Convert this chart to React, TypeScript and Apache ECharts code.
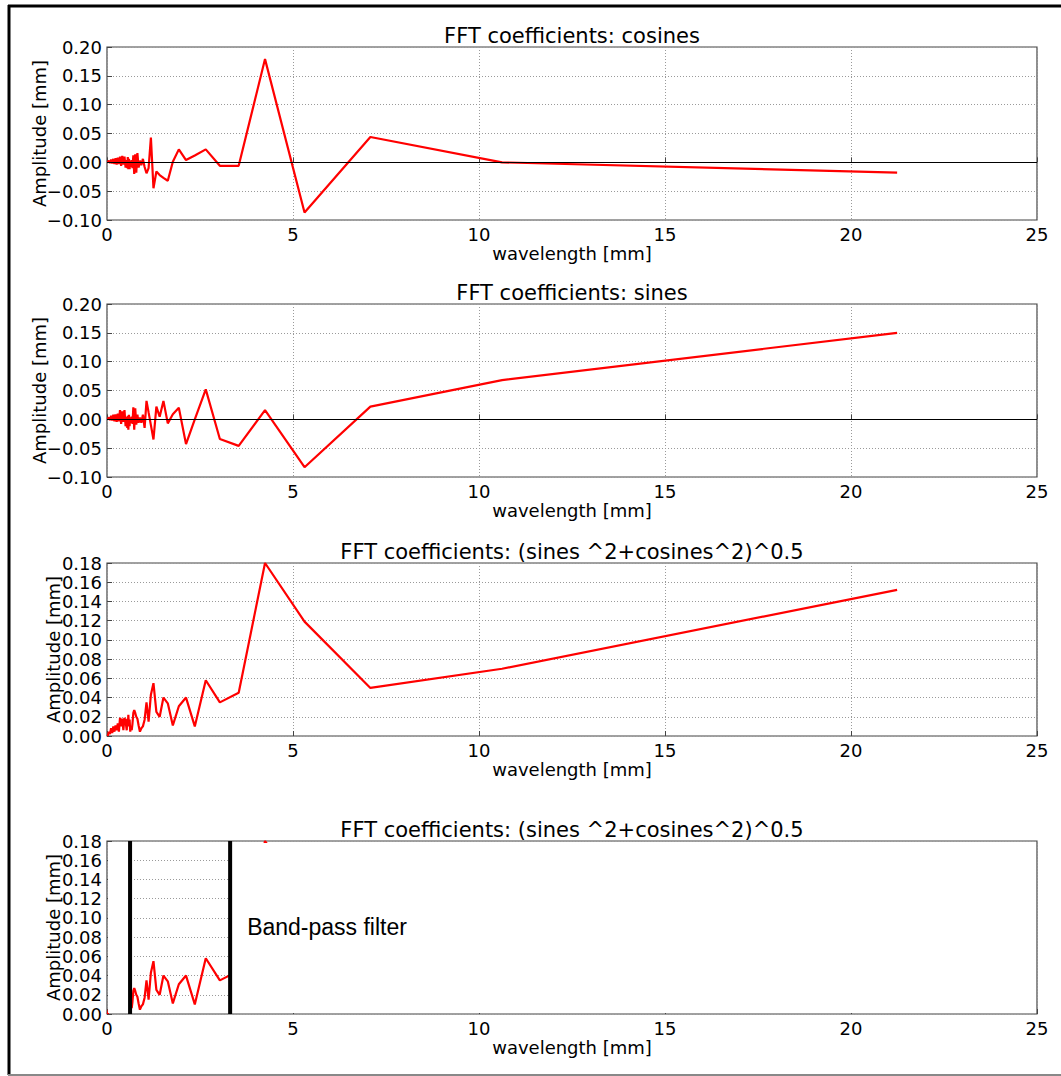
import React, { useEffect, useRef } from 'react';
import * as echarts from 'echarts';

// Wavelength of each FFT coefficient [mm]
const WAVELENGTH = [
  21.24, 10.62, 7.08, 5.31, 4.248, 3.54, 3.034, 2.655, 2.36, 2.124,
  1.931, 1.77, 1.634, 1.517, 1.416, 1.3275, 1.249, 1.18, 1.118, 1.062,
  1.011, 0.965, 0.923, 0.885, 0.85, 0.817, 0.787, 0.759, 0.732, 0.708,
  0.685, 0.664, 0.644, 0.625, 0.607, 0.59, 0.574, 0.559, 0.545, 0.531,
  0.5, 0.47, 0.44, 0.41, 0.38, 0.35, 0.32, 0.29, 0.26, 0.23,
  0.2, 0.17, 0.14, 0.11, 0.08, 0.05, 0.02,
];

const COSINES = [
  -0.018, 0.0, 0.044, -0.087, 0.179, -0.006, -0.006, 0.0225, 0.012, 0.004,
  0.0225, 0.001, -0.032, -0.027, -0.022, -0.016, -0.045, 0.043, -0.01, -0.019,
  -0.008, 0.006, -0.005, 0.003, -0.009, 0.016, -0.018, 0.014, -0.02, 0.012,
  -0.01, 0.004, -0.008, 0.003, -0.012, 0.006, -0.012, 0.009, -0.01, 0.004,
  -0.009, 0.01, -0.004, 0.011, -0.006, 0.01, -0.003, 0.008, -0.004, 0.007,
  -0.003, 0.006, -0.002, 0.005, -0.0014, 0.003, 0.0,
];

const SINES = [
  0.15, 0.068, 0.022, -0.083, 0.016, -0.046, -0.034, 0.052, 0.0, -0.043,
  0.02, 0.0087, -0.007, 0.032, 0.0045, 0.022, -0.035, -0.01, 0.012, 0.032,
  -0.015, 0.008, -0.006, 0.003, -0.006, 0.008, -0.009, 0.019, -0.018, 0.021,
  -0.008, 0.0045, -0.006, 0.0034, -0.012, 0.008, -0.018, 0.006, -0.015, 0.0045,
  -0.012, 0.016, -0.0045, 0.014, -0.008, 0.016, -0.0034, 0.01, -0.0045, 0.0085,
  -0.0034, 0.008, -0.0022, 0.006, -0.0014, 0.0034, 0.0,
];

const MAGNITUDE = [
  0.152, 0.07, 0.05, 0.119, 0.18, 0.045, 0.035, 0.058, 0.01, 0.04,
  0.031, 0.011, 0.034, 0.04, 0.02, 0.025, 0.055, 0.043, 0.015, 0.035,
  0.017, 0.01, 0.008, 0.0045, 0.011, 0.018, 0.02, 0.024, 0.027, 0.024,
  0.013, 0.006, 0.01, 0.0045, 0.017, 0.01, 0.022, 0.011, 0.018, 0.006,
  0.015, 0.019, 0.006, 0.018, 0.01, 0.019, 0.0045, 0.013, 0.006, 0.011,
  0.0045, 0.01, 0.003, 0.008, 0.002, 0.0045, 0.0,
];

const TITLES = [
  'FFT coefficients: cosines',
  'FFT coefficients: sines',
  'FFT coefficients: (sines ^2+cosines^2)^0.5',
  'FFT coefficients: (sines ^2+cosines^2)^0.5',
];
const X_LABEL = 'wavelength [mm]';
const Y_LABEL = 'Amplitude [mm]';
const X_TICKS = { min: 0, max: 25, interval: 5 };
const Y_SIGNED = { min: -0.1, max: 0.2, interval: 0.05 };
const Y_MAG = { min: 0, max: 0.18, interval: 0.02 };
const BAND = [0.62, 3.31];
const BAND_LABEL = 'Band-pass filter';

const FONT = 'DejaVu Sans';
const GRID_LEFT = 107;
const GRID_W = 930;
const GRID_H = 173;
const GRID_TOPS = [47, 304, 563, 841];

const pairs = (ys: number[]) => WAVELENGTH.map((x, i) => [x, ys[i]]);
const fmtY = (v: number) => v.toFixed(2).replace('-', '\u2212');

export default function App() {
  const ref = useRef<HTMLDivElement>(null);
  useEffect(() => {
    if (!ref.current) return;
    const chart = echarts.init(ref.current, undefined, { renderer: 'svg' });
    const seriesData = [COSINES, SINES, MAGNITUDE, MAGNITUDE];
    const zeroLine = {
      silent: true,
      symbol: ['none', 'none'],
      label: { show: false },
      lineStyle: { color: '#000', width: 1.2, type: 'solid' },
      data: [{ yAxis: 0 }],
    };
    const option: any = {
      animation: false,
      backgroundColor: '#fff',
      title: TITLES.map((t, i) => ({
        text: t,
        left: GRID_LEFT + GRID_W / 2,
        top: GRID_TOPS[i] - 22,
        textAlign: 'center',
        padding: 0,
        textStyle: { fontSize: 21, fontWeight: 'normal', color: '#000', fontFamily: FONT },
      })),
      grid: GRID_TOPS.map((t) => ({
        left: GRID_LEFT,
        top: t,
        width: GRID_W,
        height: GRID_H,
        show: true,
        borderColor: '#444',
        borderWidth: 1.2,
        backgroundColor: 'transparent',
      })),
      xAxis: GRID_TOPS.map((_, i) => ({
        gridIndex: i,
        type: 'value',
        ...X_TICKS,
        name: X_LABEL,
        nameLocation: 'middle',
        nameGap: 24,
        nameMoveOverlap: false,
        nameTextStyle: { fontSize: 18, color: '#000', fontFamily: FONT },
        axisLine: { show: false },
        axisTick: { show: true, inside: true, length: 5, lineStyle: { color: '#444' } },
        axisLabel: { fontSize: 18, color: '#000', margin: 5, fontFamily: FONT },
        splitLine: { show: true, lineStyle: { color: '#9a9a9a', type: [1, 2], width: 1 } },
      })),
      yAxis: GRID_TOPS.map((_, i) => ({
        gridIndex: i,
        type: 'value',
        ...(i < 2 ? Y_SIGNED : Y_MAG),
        name: Y_LABEL,
        nameLocation: 'middle',
        nameRotate: 90,
        nameGap: i < 2 ? 59 : 45,
        nameMoveOverlap: false,
        nameTextStyle: { fontSize: 18, color: '#000', fontFamily: FONT },
        axisLine: { show: false },
        axisTick: { show: true, inside: true, length: 5, lineStyle: { color: '#444' } },
        axisLabel: { fontSize: 18, color: '#000', margin: 5, fontFamily: FONT, formatter: fmtY },
        splitLine: { show: true, lineStyle: { color: '#9a9a9a', type: [1, 2], width: 1 } },
      })),
      series: seriesData.map((ys, i) => ({
        type: 'line',
        xAxisIndex: i,
        yAxisIndex: i,
        data: pairs(ys),
        showSymbol: false,
        symbol: 'none',
        lineStyle: { color: '#ff0000', width: 2.2 },
        clip: true,
        z: 3,
        ...(i < 2 ? { markLine: zeroLine } : {}),
      })),
    };
    chart.setOption(option);

    const g = 3;
    const [xa] = chart.convertToPixel({ gridIndex: g }, [BAND[0], 0]) as number[];
    const [xb] = chart.convertToPixel({ gridIndex: g }, [BAND[1], 0]) as number[];
    const top = GRID_TOPS[g];
    const bot = top + GRID_H;
    const right = GRID_LEFT + GRID_W;
    chart.setOption({
      graphic: [
        { type: 'rect', z: 100, shape: { x: GRID_LEFT + 1, y: top + 2, width: xa - GRID_LEFT - 1, height: GRID_H - 3 }, style: { fill: '#fff' } },
        { type: 'rect', z: 100, shape: { x: xb, y: top + 2, width: right - xb - 1, height: GRID_H - 3 }, style: { fill: '#fff' } },
        { type: 'line', z: 101, shape: { x1: xa, y1: top, x2: xa, y2: bot }, style: { stroke: '#000', lineWidth: 4 } },
        { type: 'line', z: 101, shape: { x1: xb, y1: top, x2: xb, y2: bot }, style: { stroke: '#000', lineWidth: 4 } },
        { type: 'text', z: 102, x: xb + 17, y: top + 86, style: { text: BAND_LABEL, fill: '#000', fontSize: 23, fontFamily: 'Liberation Sans', textVerticalAlign: 'middle', verticalAlign: 'middle' } },
        { type: 'line', z: 110, shape: { x1: 9, y1: 5, x2: 9, y2: 1075 }, style: { stroke: '#000', lineWidth: 3 } },
        { type: 'line', z: 110, shape: { x1: 8, y1: 6, x2: 1061, y2: 6 }, style: { stroke: '#000', lineWidth: 3 } },
        { type: 'line', z: 110, shape: { x1: 8, y1: 1075, x2: 1061, y2: 1075 }, style: { stroke: '#888', lineWidth: 2 } },
      ],
    });
    return () => chart.dispose();
  }, []);
  return <div ref={ref} style={{ position: 'absolute', left: 0, top: 0, width: 1061, height: 1076 }} />;
}
